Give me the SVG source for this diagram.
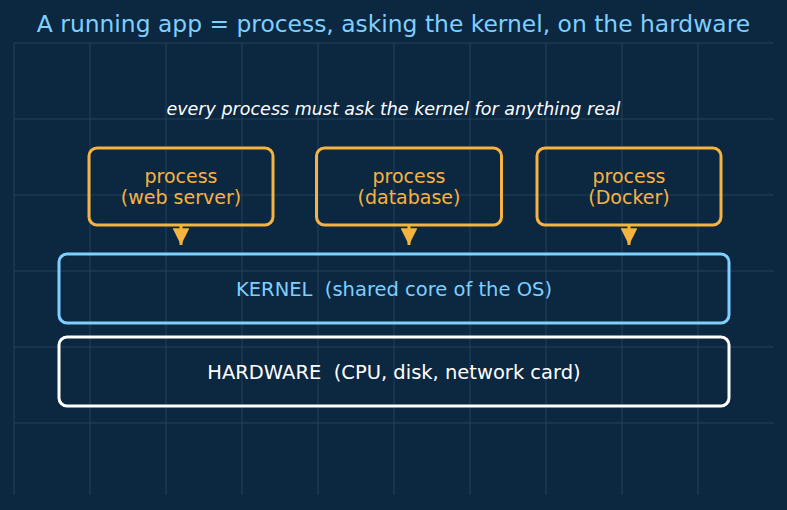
<svg xmlns="http://www.w3.org/2000/svg" width="787" height="510" viewBox="0 0 787 510">
<defs>
<style>
.grid line{stroke:#23435c;stroke-width:1}
.proc rect{fill:none;stroke:#f7b33f;stroke-width:3}
.proc text{fill:#f7b33f;font-family:"DejaVu Sans",sans-serif;font-size:19px;text-anchor:middle}
.lbl{font-family:"DejaVu Sans",sans-serif;font-size:19.5px;text-anchor:middle}
.conn line{stroke:#f7b33f;stroke-width:3}
</style>
<marker id="ah" viewBox="0 0 10 10" refX="10" refY="5" markerWidth="5.6" markerHeight="5.6" orient="auto" markerUnits="strokeWidth">
<path d="M0,0 L10,5 L0,10 z" fill="#f7b33f"/>
</marker>
</defs>
<rect width="787" height="510" fill="#0c2740"/>
<g class="grid">
<line x1="14" y1="43" x2="14" y2="495"/><line x1="90" y1="43" x2="90" y2="495"/><line x1="166" y1="43" x2="166" y2="495"/><line x1="242" y1="43" x2="242" y2="495"/><line x1="318" y1="43" x2="318" y2="495"/><line x1="394" y1="43" x2="394" y2="495"/><line x1="470" y1="43" x2="470" y2="495"/><line x1="546" y1="43" x2="546" y2="495"/><line x1="622" y1="43" x2="622" y2="495"/><line x1="698" y1="43" x2="698" y2="495"/>
<line x1="14" y1="43" x2="774" y2="43"/><line x1="14" y1="119" x2="774" y2="119"/><line x1="14" y1="195" x2="774" y2="195"/><line x1="14" y1="271" x2="774" y2="271"/><line x1="14" y1="347" x2="774" y2="347"/><line x1="14" y1="423" x2="774" y2="423"/>
</g>
<text x="393.5" y="32" fill="#7fcfff" font-family="DejaVu Sans,sans-serif" font-size="23.4" text-anchor="middle">A running app = process, asking the kernel, on the hardware</text>
<text x="393.5" y="115" fill="#ffffff" font-family="DejaVu Sans,sans-serif" font-size="17.5" font-style="italic" text-anchor="middle">every process must ask the kernel for anything real</text>
<g class="conn">
<line x1="181" y1="226" x2="181" y2="245" marker-end="url(#ah)"/>
<line x1="409" y1="226" x2="409" y2="245" marker-end="url(#ah)"/>
<line x1="629" y1="226" x2="629" y2="245" marker-end="url(#ah)"/>
</g>
<g id="proc-web" class="proc"><rect x="89" y="148" width="184" height="77" rx="8"/><text x="181" y="182.5">process</text><text x="181" y="204">(web server)</text></g>
<g id="proc-db" class="proc"><rect x="316.5" y="148" width="185" height="77" rx="8"/><text x="409" y="182.5">process</text><text x="409" y="204">(database)</text></g>
<g id="proc-docker" class="proc"><rect x="537" y="148" width="184" height="77" rx="8"/><text x="629" y="182.5">process</text><text x="629" y="204">(Docker)</text></g>
<g id="kernel"><rect x="59" y="254" width="670" height="69" rx="8" fill="none" stroke="#7fcfff" stroke-width="3"/><text class="lbl" x="394" y="295.5" fill="#7fcfff" xml:space="preserve">KERNEL  (shared core of the OS)</text></g>
<g id="hardware"><rect x="59" y="337" width="670" height="69" rx="8" fill="none" stroke="#ffffff" stroke-width="3"/><text class="lbl" x="394" y="378.5" fill="#ffffff" xml:space="preserve">HARDWARE  (CPU, disk, network card)</text></g>
</svg>
